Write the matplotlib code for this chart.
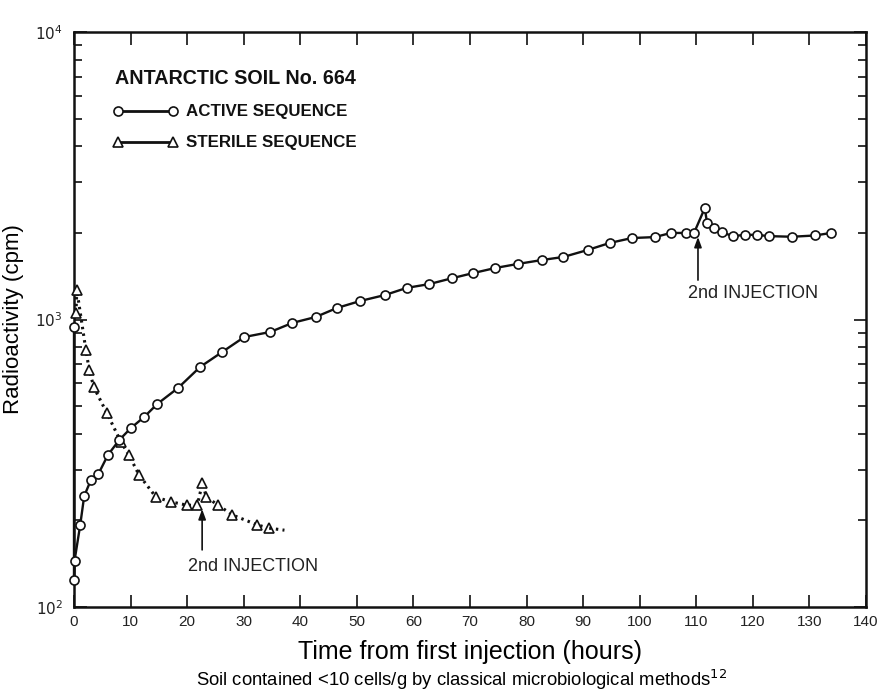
import matplotlib
matplotlib.use("Agg")
import matplotlib.pyplot as plt
from matplotlib.ticker import LogLocator, FixedLocator, NullFormatter, FixedFormatter
from matplotlib.lines import Line2D

# ---- data ----
active_hours = [0.0, 0.0, 0.1, 1.1, 1.8, 3.0, 4.3, 6.0, 8.0, 10.1, 12.4, 14.7, 18.4,
                22.3, 26.2, 30.1, 34.7, 38.6, 42.7, 46.5, 50.6, 55.0, 58.8, 62.8,
                66.9, 70.6, 74.5, 78.4, 82.7, 86.5, 90.8, 94.7, 98.6, 102.7, 105.5,
                108.1, 109.6, 111.5, 111.9, 113.2, 114.5, 116.5, 118.6, 120.7, 122.8,
                126.9, 131.0, 133.8]
active_cpm = [940, 124, 145, 193, 243, 277, 290, 338, 381, 420, 458, 508, 578,
              684, 771, 869, 905, 973, 1020, 1097, 1160, 1217, 1288, 1328,
              1393, 1451, 1511, 1560, 1610, 1650, 1745, 1846, 1920, 1935, 2000,
              2000, 2000, 2440, 2170, 2080, 2010, 1950, 1970, 1970, 1950,
              1940, 1960, 2000]

sterile_hours = [0.35, 0.5, 2.1, 2.7, 3.5, 5.8, 8.3, 9.7, 11.5, 14.5, 17.2, 20.0,
                 21.8, 22.7, 23.4, 25.5, 28.0, 32.4, 34.5]
sterile_cpm = [1054, 1268, 783, 667, 582, 473, 375, 338, 288, 241, 232, 226,
               226, 270, 241, 226, 209, 193, 188]
sterile_tail_hours = [34.5, 37.2]
sterile_tail_cpm = [188, 185]

x_ticks = [0, 10, 20, 30, 40, 50, 60, 70, 80, 90, 100, 110, 120, 130, 140]
x_tick_labels = [str(v) for v in x_ticks]
y_ticks = [1e2, 1e3, 1e4]
y_tick_labels = [r"$10^{2}$", r"$10^{3}$", r"$10^{4}$"]

injection1 = {"x": 22.65, "tip": 219, "tail": 158, "tx": 31.7, "ty": 138}
injection2 = {"x": 110.3, "tip": 1937, "tail": 1371, "tx": 120.0, "ty": 1236}

legend_title = "ANTARCTIC SOIL No. 664"
legend_labels = ["ACTIVE SEQUENCE", "STERILE SEQUENCE"]
x_label = "Time from first injection (hours)"
y_label = "Radioactivity (cpm)"
caption = r"Soil contained <10 cells/g by classical microbiological methods$^{12}$"

# ---- figure ----
ink = "#111111"
fig = plt.figure(figsize=(8.8, 6.94), dpi=100)
ax = fig.add_axes([74/880, 1-607/694, (866-74)/880, (607-32)/694])
ax.set_yscale("log")
ax.set_xlim(0, 140)
ax.set_ylim(1e2, 1e4)

ax.plot(active_hours, active_cpm, color=ink, lw=1.7, marker="o", ms=6.5,
        mfc="white", mec=ink, mew=1.2, zorder=4, clip_on=False)
ax.plot(sterile_hours, sterile_cpm, color=ink, lw=2.2, ls=(0, (0.8, 1.4)),
        marker="^", ms=7.5, mfc="white", mec=ink, mew=1.2, zorder=3, clip_on=False)
ax.plot(sterile_tail_hours, sterile_tail_cpm, color=ink, lw=2.2, ls=(0, (0.8, 1.4)),
        zorder=3)

# ticks
ax.xaxis.set_major_locator(FixedLocator(x_ticks))
ax.xaxis.set_major_formatter(FixedFormatter(x_tick_labels))
ax.yaxis.set_major_locator(FixedLocator(y_ticks))
ax.yaxis.set_major_formatter(FixedFormatter(y_tick_labels))
ax.yaxis.set_minor_locator(LogLocator(base=10, subs=range(2, 10)))
ax.yaxis.set_minor_formatter(NullFormatter())
ax.tick_params(which="both", direction="in", top=True, right=True, color=ink,
               width=1.2)
ax.tick_params(which="major", length=9, labelsize=11, labelcolor="#222222")
ax.tick_params(which="minor", length=6)
ax.tick_params(axis="x", pad=6)
ax.tick_params(axis="y", pad=8)
for lab in ax.get_xticklabels() + ax.get_yticklabels():
    lab.set_family("Liberation Sans")
for sp in ax.spines.values():
    sp.set_linewidth(1.8)
    sp.set_color(ink)

ax.set_xlabel(x_label, family="Liberation Sans", fontsize=18, labelpad=8)
ax.set_ylabel(y_label, family="Liberation Sans", fontsize=16, labelpad=8)
fig.text(0.525, 1-680/694, caption, family="Liberation Sans", fontsize=13.3,
         ha="center", va="center")

# legend drawn as text + sample lines (axes fraction)
ax.text(0.052, 0.92, legend_title, transform=ax.transAxes, fontsize=14.2,
        fontweight="bold", family="Liberation Sans", va="center", ha="left", color=ink)
for i, (lab, mk, ls) in enumerate(zip(legend_labels, ["o", "^"], ["-", "-"])):
    yy = 0.862 - i * 0.054
    ax.add_line(Line2D([0.056, 0.125], [yy, yy], transform=ax.transAxes, color=ink,
                       lw=2.0, ls=ls, marker=mk, ms=6.5, mfc="white", mec=ink, mew=1.2))
    ax.text(0.142, yy, lab, transform=ax.transAxes, fontsize=12.2, fontweight="bold",
            family="Liberation Sans", va="center", ha="left", color=ink)

# injection annotations
for inj in (injection1, injection2):
    ax.annotate("", xy=(inj["x"], inj["tip"]), xytext=(inj["x"], inj["tail"]),
                arrowprops=dict(arrowstyle="-|>,head_length=0.6,head_width=0.22",
                                color=ink, lw=1.2, shrinkA=0, shrinkB=0))
    ax.text(inj["tx"], inj["ty"], "2nd INJECTION", fontsize=13, family="Liberation Sans",
            ha="center", va="center", color="#222222")

fig.savefig("out.png", dpi=100)
